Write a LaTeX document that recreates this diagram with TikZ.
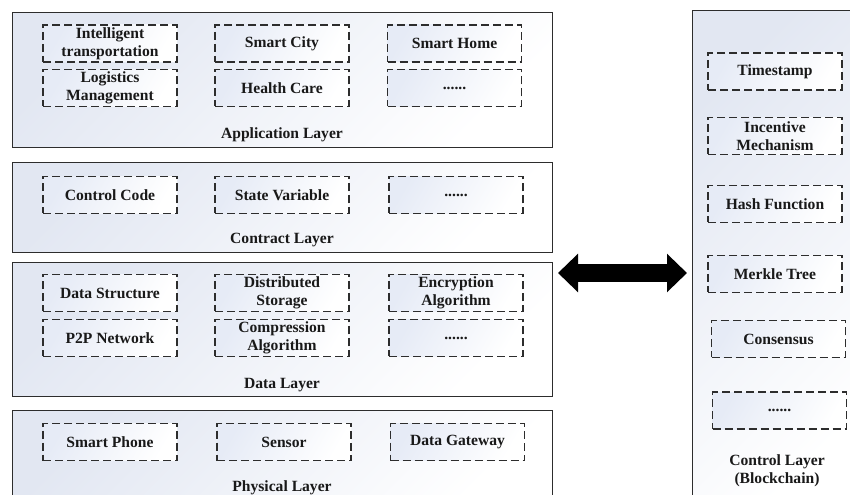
\documentclass[tikz,border=0pt]{standalone}
\usepackage{fontspec}
\setmainfont{Liberation Serif}
\usetikzlibrary{arrows.meta}
\definecolor{layerbg}{RGB}{226,231,242}
\definecolor{itembg}{RGB}{230,235,246}
\definecolor{edgegray}{RGB}{45,45,45}

\begin{document}
\begin{tikzpicture}[x=0.75pt,y=-0.75pt,
    every node/.style={font=\bfseries\fontsize{11.7}{13.5}\selectfont,align=center,inner sep=0pt,text=black!90},
    layer/.style={draw=edgegray,line width=0.8pt,left color=layerbg,right color=white,shading angle=45,anchor=north west,minimum width=405pt},
    item/.style={draw=edgegray,line width=0.8pt,dash pattern=on 6pt off 3pt,left color=itembg,right color=white,shading angle=60,minimum width=100.5pt,minimum height=27.75pt}]
        \clip (0,0) rectangle (850,495);
        \fill[white] (0,0) rectangle (850,495);
        %% Layers
        \node[layer,minimum height=101.25pt] (app) at (12,12) {};
        \node[layer,minimum height=67.5pt] (contract) at (12,162) {};
        \node[layer,minimum height=100.5pt] (data) at (12,262) {};
        \node[layer,minimum height=70pt] (phys) at (12,410) {};
        \node[layer,minimum width=127.5pt,minimum height=375pt] (ctrl) at (692,10) {};
        %% Application layer
        \node[item] (its) at (110,43.5) {Intelligent\\transportation};
        \node[item] (city) at (282,43.5) {Smart City};
        \node[item] (home) at (454.5,43.5) {Smart Home};
        \node[item] (logis) at (110,88) {Logistics\\Management};
        \node[item] (health) at (282,88) {Health Care};
        \node[item] (appmore) at (454.5,88) {......};
        \node (applbl) at (282,135) {Application Layer};
        %% Contract layer
        \node[item] (code) at (110,195) {Control Code};
        \node[item] (state) at (282,195) {State Variable};
        \node[item] (conmore) at (456,195) {......};
        \node (conlbl) at (282,240) {Contract Layer};
        %% Data layer
        \node[item] (struct) at (110,293) {Data Structure};
        \node[item] (storage) at (282,293) {Distributed\\Storage};
        \node[item] (encrypt) at (456,293) {Encryption\\Algorithm};
        \node[item] (ptp) at (110,338) {P2P Network};
        \node[item] (compress) at (282,338) {Compression\\Algorithm};
        \node[item] (datamore) at (456,338) {......};
        \node (datalbl) at (282,385) {Data Layer};
        %% Physical layer
        \node[item] (phone) at (110,442) {Smart Phone};
        \node[item] (sensor) at (284,442) {Sensor};
        \node[item] (gateway) at (457.5,442) {Data Gateway};
        \node (physlbl) at (282,488) {Physical Layer};
        %% Control layer
        \node[item] (stamp) at (775,71.5) {Timestamp};
        \node[item] (incent) at (775,136) {Incentive\\Mechanism};
        \node[item] (hash) at (775,204) {Hash Function};
        \node[item] (merkle) at (775,274) {Merkle Tree};
        \node[item] (consensus) at (778.5,339) {Consensus};
        \node[item] (ctrlmore) at (779.5,410.5) {......};
        \node (ctrllbl) at (777,470.5) {Control Layer\\(Blockchain)};
        %% link
        \coordinate (al) at (558,273);
        \coordinate (ar) at (687,273);
        \draw[line width=13.5pt,{Triangle[length=15pt,width=28pt]}-{Triangle[length=15pt,width=28pt]}] (al) -- (ar);
    \end{tikzpicture}
\end{document}
